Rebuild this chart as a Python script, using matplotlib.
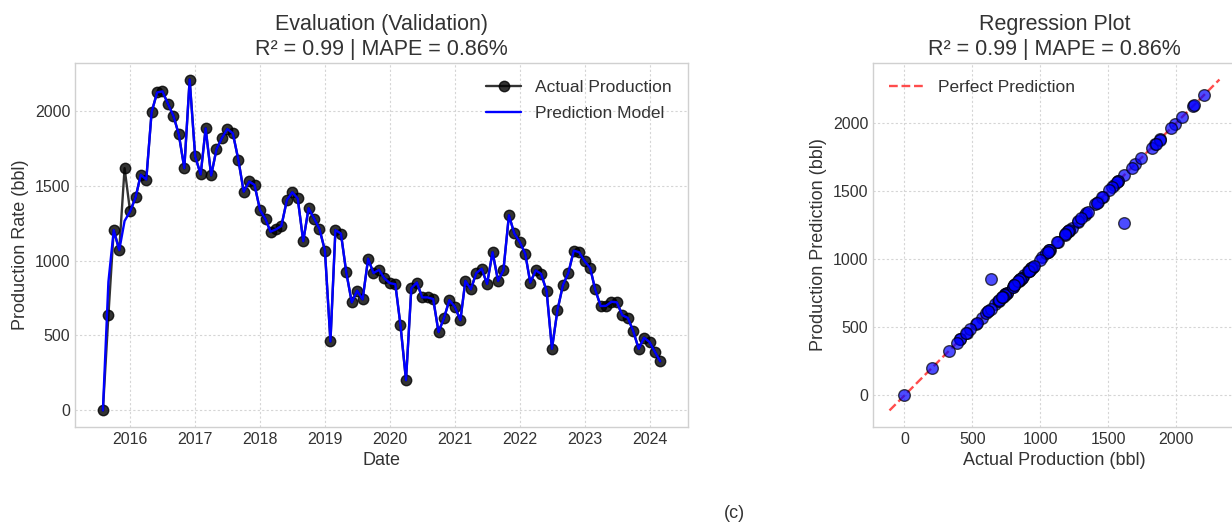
import numpy as np
import pandas as pd
import matplotlib
matplotlib.use("Agg")
import matplotlib.pyplot as plt

# monthly well production, Aug 2015 - Mar 2024 (bbl)
actual = [0, 635, 1203, 1069, 1616, 1327, 1421, 1572, 1540, 1989, 2121, 2128,
          2045, 1964, 1841, 1616, 2207, 1695, 1574, 1881, 1567, 1742, 1818, 1877,
          1848, 1672, 1459, 1527, 1504, 1336, 1275, 1192, 1208, 1230, 1403, 1455,
          1414, 1129, 1349, 1280, 1212, 1066, 460, 1203, 1180, 921, 721, 798,
          741, 1012, 916, 938, 882, 849, 842, 568, 202, 815, 853, 754,
          754, 743, 523, 617, 736, 691, 602, 864, 808, 916, 945, 844,
          1055, 864, 934, 1302, 1181, 1123, 1044, 853, 934, 911, 797, 411,
          669, 837, 916, 1066, 1055, 995, 950, 808, 696, 698, 725, 721,
          635, 617, 530, 411, 485, 456, 388, 328]
dates = pd.date_range("2015-08-01", periods=len(actual), freq="MS")

# model output: tracks the actuals except two months
predicted = list(actual)
predicted[1] = 857
predicted[4] = 1264

r2_text = "R² = 0.99 | MAPE = 0.86%"

plt.style.use("seaborn-v0_8-whitegrid")
plt.rcParams["font.family"] = ["Liberation Sans", "DejaVu Sans"]
plt.rcParams["axes.edgecolor"] = "#d0d0d0"
plt.rcParams["text.color"] = "#333333"
plt.rcParams["axes.labelcolor"] = "#333333"
plt.rcParams["xtick.color"] = "#333333"
plt.rcParams["ytick.color"] = "#333333"

fig = plt.figure(figsize=(12.32, 5.28), dpi=100)
ax1 = fig.add_axes([0.0609, 0.1913, 0.4976, 0.6894])
ax2 = fig.add_axes([0.7086, 0.1913, 0.2946, 0.6894])

# time series
ax1.plot(dates, actual, color="black", marker="o", markersize=7.5, lw=1.7,
         alpha=0.8, label="Actual Production")
ax1.plot(dates, predicted, color="blue", lw=1.7, label="Prediction Model")
ax1.set_title("Evaluation (Validation)\n" + r2_text, fontsize=15.5, pad=6)
ax1.set_xlabel("Date", fontsize=13)
ax1.set_ylabel("Production Rate (bbl)", fontsize=13)
ax1.grid(True, linestyle=(0, (2, 2)), color="#d5d5d5", lw=0.8)
ax1.tick_params(labelsize=11.5)
ax1.legend(fontsize=12.5, loc="upper right", labelspacing=0.65,
           borderaxespad=0.55)

# regression scatter
ax2.scatter(actual, predicted, s=70, color="blue", edgecolor="black",
            alpha=0.7, zorder=3)
lo, hi = min(actual), max(actual)
pad = 0.05 * (hi - lo)
ax2.plot([lo - pad, hi + pad], [lo - pad, hi + pad], color="red", ls="--",
         lw=1.7, alpha=0.7, label="Perfect Prediction")
ax2.set_title("Regression Plot\n" + r2_text, fontsize=15.5, pad=6)
ax2.set_xlabel("Actual Production (bbl)", fontsize=13)
ax2.set_ylabel("Production Prediction (bbl)", fontsize=13)
ax2.grid(True, linestyle=(0, (2, 2)), color="#d5d5d5", lw=0.8)
ax2.tick_params(labelsize=11.5)
ax2.legend(fontsize=12.5, loc="upper left", borderaxespad=0.55)

fig.text(0.596, 0.028, "(c)", fontsize=13, ha="center", va="center")

fig.savefig("out.png", dpi=100, facecolor="white")
